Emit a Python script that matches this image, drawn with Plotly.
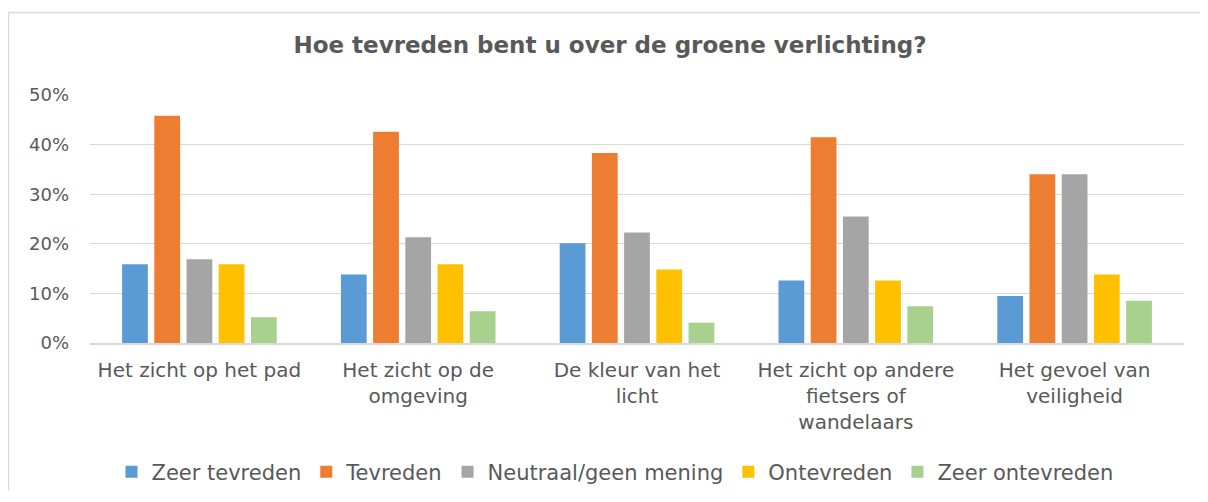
import plotly.graph_objects as go

categories = [
    "Het zicht op het pad",
    "Het zicht op de<br>omgeving",
    "De kleur van het<br>licht",
    "Het zicht op andere<br>fietsers of<br>wandelaars",
    "Het gevoel van<br>veiligheid",
]
zeer_tevreden = [0.159, 0.138, 0.201, 0.126, 0.095]
tevreden = [0.458, 0.426, 0.383, 0.415, 0.340]
neutraal = [0.169, 0.213, 0.223, 0.255, 0.340]
ontevreden = [0.159, 0.159, 0.148, 0.126, 0.138]
zeer_ontevreden = [0.052, 0.064, 0.041, 0.074, 0.085]

series_names = ["Zeer tevreden", "Tevreden", "Neutraal/geen mening", "Ontevreden", "Zeer ontevreden"]
series_values = [zeer_tevreden, tevreden, neutraal, ontevreden, zeer_ontevreden]
colors = ["#5B9BD5", "#ED7D31", "#A5A5A5", "#FFC000", "#A9D18E"]

# page body has an 8px margin, so figure coordinates are offset by 8px
OFF = 8
W, H = 1200, 482
L, R, T = 90 - OFF, 24, 95 - OFF
B = H - (343 - OFF)

fig = go.Figure()
for name, vals, col in zip(series_names, series_values, colors):
    fig.add_trace(go.Bar(x=categories, y=vals, name=name, marker=dict(color=col, line=dict(width=0))))

FONT = "Verdana, DejaVu Sans, sans-serif"
pw = W - L - R
ph = H - T - B


def px2x(px):
    return (px - OFF - L) / pw


def px2y(py):
    return (H - B - (py - OFF)) / ph


fig.update_layout(
    width=W, height=H,
    margin=dict(l=L, r=R, t=T, b=B, autoexpand=False),
    paper_bgcolor="white", plot_bgcolor="white",
    barmode="group", bargap=0.264, bargroupgap=0.2,
    font=dict(family=FONT, color="#595959", size=20),
    title=dict(text="<b>Hoe tevreden bent u over de groene verlichting?</b>",
               x=(610 - OFF) / W, xanchor="center", xref="container",
               y=1 - (45 - OFF) / H, yanchor="middle",
               font=dict(family=FONT, size=23, color="#595959")),
    legend=dict(orientation="h", x=px2x(615), xanchor="center", xref="paper",
                y=px2y(472), yanchor="middle", font=dict(size=21, color="#595959"),
                traceorder="normal", itemwidth=30, bgcolor="rgba(0,0,0,0)"),
    showlegend=True,
    shapes=[dict(type="rect", xref="paper", yref="paper",
                 x0=px2x(8.5), x1=px2x(1300), y0=px2y(12.5), y1=px2y(600),
                 line=dict(color="#D9D9D9", width=1.5), fillcolor="rgba(0,0,0,0)", layer="below")],
)
fig.update_yaxes(range=[0, 0.5], tickvals=[0, 0.1, 0.2, 0.3, 0.4, 0.5], tickformat=".0%",
                 showgrid=True, gridcolor="#D9D9D9", gridwidth=1, zeroline=False,
                 showline=False, ticks="", ticklen=0, tickfont=dict(size=18, color="#595959"),
                 fixedrange=True, ticklabelstandoff=20, automargin=False)
fig.update_xaxes(showline=True, linecolor="#D9D9D9", linewidth=1.5, ticks="",
                 tickfont=dict(size=20, color="#595959"), fixedrange=True, tickangle=0,
                 ticklabelstandoff=8, automargin=False)

fig.write_html("out.html")
